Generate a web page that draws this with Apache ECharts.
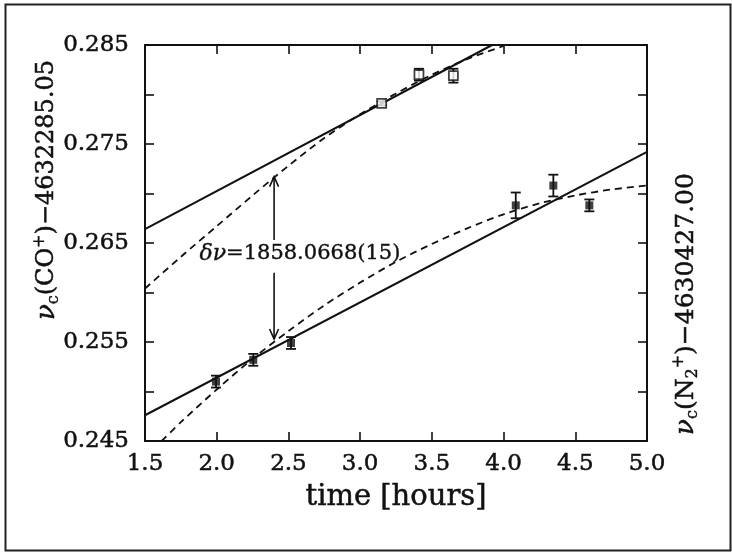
<!DOCTYPE html>
<html>
<head>
<meta charset="utf-8">
<script src="https://cdn.jsdelivr.net/npm/echarts@6/dist/echarts.min.js"></script>
<style>
html,body{margin:0;padding:0;background:#fff;}
#chart{width:732px;height:552px;}
</style>
</head>
<body>
<div id="chart"></div>
<script>
// ---- data ----
const xTickLabels = ['1.5','2.0','2.5','3.0','3.5','4.0','4.5','5.0'];
const yTickLabels = ['0.245','0.255','0.265','0.275','0.285'];

// CO+ measurements (open squares): time [h], value, error
const coTime  = [3.15, 3.41, 3.65];
const coValue = [0.2791, 0.2820, 0.2819];
const coErr   = [0.0002, 0.0006, 0.0007];

// N2+ measurements (filled squares)
const n2Time  = [1.995, 2.255, 2.518, 4.085, 4.347, 4.598];
const n2Value = [0.2510, 0.2532, 0.2549, 0.2688, 0.2708, 0.2688];
const n2Err   = [0.0006, 0.0006, 0.0006, 0.0013, 0.0011, 0.0006];

// linear fits (solid)
const coLinX = [1.5, 3.92];
const coLinY = [0.2664, 0.2850];
const n2LinX = [1.5, 5.0];
const n2LinY = [0.2476, 0.2742];

// quadratic fits (dashed)
const coQuadX = [1.5, 1.75, 2.0, 2.25, 2.5, 2.75, 3.0, 3.25, 3.5, 3.75, 4.0];
const coQuadY = [0.2604, 0.2636, 0.2667, 0.2698, 0.2728, 0.2756, 0.2780, 0.2801, 0.2820, 0.2836, 0.2849];
const n2QuadX = [1.616, 1.75, 2.0, 2.25, 2.5, 2.75, 3.0, 3.25, 3.5, 3.75, 4.0, 4.25, 4.5, 4.75, 5.0];
const n2QuadY = [0.2450, 0.2469, 0.2502, 0.2533, 0.2561, 0.2587, 0.2610, 0.2631, 0.2649, 0.2665, 0.2679, 0.2690, 0.2698, 0.2704, 0.2708];

// annotation arrow (x, from, to=arrow tip)
const arrowX    = [2.4, 2.4];
const arrowFrom = [0.2653, 0.2620];
const arrowTo   = [0.2717, 0.2553];
const annotPos  = [2.58, 0.2639];

// ---- build ----
const zip = (a, b) => a.map((v, i) => [v, b[i]]);
const zip3 = (a, b, c) => a.map((v, i) => [v, b[i], c[i]]);

const FONT = 'DejaVu Serif';
const INK = '#111';
const heavy = {textBorderColor: INK, textBorderWidth: 0.5};

function renderErr(params, api) {
  const x = api.value(0), y = api.value(1), e = api.value(2);
  const t = api.coord([x, y + e]), b = api.coord([x, y - e]);
  const w = 5;
  const st = {stroke: INK, lineWidth: 1.8};
  return {type: 'group', children: [
    {type: 'line', shape: {x1: t[0], y1: t[1], x2: b[0], y2: b[1]}, style: st},
    {type: 'line', shape: {x1: t[0] - w, y1: t[1], x2: t[0] + w, y2: t[1]}, style: st},
    {type: 'line', shape: {x1: b[0] - w, y1: b[1], x2: b[0] + w, y2: b[1]}, style: st}
  ]};
}

function renderArrow(params, api) {
  const x = api.value(0), f = api.value(1), t = api.value(2);
  const p0 = api.coord([x, f]), p1 = api.coord([x, t]);
  const dir = p1[1] < p0[1] ? 1 : -1;
  const L = 10, W = 4.5;
  const st = {stroke: INK, lineWidth: 1.6, fill: null};
  return {type: 'group', children: [
    {type: 'line', shape: {x1: p0[0], y1: p0[1], x2: p1[0], y2: p1[1]}, style: st},
    {type: 'polyline', shape: {points: [[p1[0] - W, p1[1] + dir * L], [p1[0], p1[1]], [p1[0] + W, p1[1] + dir * L]]}, style: st}
  ]};
}

function renderText(params, api) {
  const p = api.coord([api.value(0), api.value(1)]);
  return {type: 'text', x: p[0], y: p[1], style: {
    text: '{i|δν}{n|=1858.0668(15)}',
    align: 'center', verticalAlign: 'middle',
    rich: {
      i: Object.assign({fontFamily: FONT, fontSize: 22, fontStyle: 'italic', fill: INK}, {stroke: INK, lineWidth: 0.4}),
      n: Object.assign({fontFamily: FONT, fontSize: 21, fill: INK}, {stroke: INK, lineWidth: 0.4})
    }
  }};
}

const axisLineStyle = {show: true, lineStyle: {color: INK, width: 2}};
const tickStyle = {show: true, inside: true, length: 9, lineStyle: {color: INK, width: 1.6}};

const option = {
  animation: false,
  backgroundColor: '#fff',
  grid: {left: 145, right: 85, top: 45, bottom: 111, containLabel: false},
  xAxis: [
    {type: 'value', min: 1.5, max: 5.0, interval: 0.5, position: 'bottom',
     axisLine: axisLineStyle, axisTick: tickStyle, splitLine: {show: false},
     axisLabel: Object.assign({margin: 12, color: INK, fontFamily: FONT, fontSize: 23,
       formatter: v => xTickLabels.find(l => Math.abs(parseFloat(l) - v) < 1e-6) || ''}, heavy),
     name: 'time [hours]', nameLocation: 'middle', nameGap: 42,
     nameTextStyle: Object.assign({color: INK, fontFamily: FONT, fontSize: 29}, heavy)},
    {type: 'value', min: 1.5, max: 5.0, interval: 0.5, position: 'top',
     axisLine: axisLineStyle, axisTick: tickStyle, splitLine: {show: false},
     axisLabel: {show: false}}
  ],
  yAxis: [
    {type: 'value', min: 0.245, max: 0.285, interval: 0.005, position: 'left',
     axisLine: axisLineStyle, axisTick: tickStyle, splitLine: {show: false},
     axisLabel: Object.assign({margin: 16, color: INK, fontFamily: FONT, fontSize: 23,
       formatter: v => yTickLabels.find(l => Math.abs(parseFloat(l) - v) < 1e-6) || ''}, heavy)},
    {type: 'value', min: 0.245, max: 0.285, interval: 0.005, position: 'right',
     axisLine: axisLineStyle, axisTick: tickStyle, splitLine: {show: false},
     axisLabel: {show: false}}
  ],
  series: [
    {type: 'line', data: zip(coLinX, coLinY), showSymbol: false, symbol: 'none',
     lineStyle: {color: INK, width: 2}, z: 3},
    {type: 'line', data: zip(n2LinX, n2LinY), showSymbol: false, symbol: 'none',
     lineStyle: {color: INK, width: 2}, z: 3},
    {type: 'line', data: zip(coQuadX, coQuadY), showSymbol: false, symbol: 'none', smooth: 0.3,
     lineStyle: {color: INK, width: 1.8, type: [7, 5]}, z: 3},
    {type: 'line', data: zip(n2QuadX, n2QuadY), showSymbol: false, symbol: 'none', smooth: 0.3,
     lineStyle: {color: INK, width: 1.8, type: [7, 5]}, z: 3},
    {type: 'custom', renderItem: renderErr, data: zip3(coTime, coValue, coErr), encode: {x: 0, y: 1}, z: 4},
    {type: 'custom', renderItem: renderErr, data: zip3(n2Time, n2Value, n2Err), encode: {x: 0, y: 1}, z: 4},
    {type: 'scatter', data: zip(coTime, coValue), symbol: 'rect', symbolSize: 9,
     itemStyle: {color: '#fff', borderColor: INK, borderWidth: 1.8}, z: 5},
    {type: 'scatter', data: zip(n2Time, n2Value), symbol: 'rect', symbolSize: 8,
     itemStyle: {color: INK}, z: 5},
    {type: 'custom', renderItem: renderArrow, data: zip3(arrowX, arrowFrom, arrowTo), encode: {x: 0, y: 1}, z: 6},
    {type: 'custom', renderItem: renderText, data: [annotPos], encode: {x: 0, y: 1}, z: 6}
  ],
  graphic: [
    {type: 'rect', left: 3, top: 2, shape: {x: 0, y: 0, width: 725, height: 546},
     style: {fill: null, stroke: '#222', lineWidth: 2}, silent: true, z: -1},
    {type: 'text', x: 47, y: 190, rotation: Math.PI / 2,
     style: {text: '{g|ν}{s|c}{n|(CO}{p|+}{n|)−4632285.05}', align: 'center', verticalAlign: 'middle',
       rich: {
         g: {fontFamily: FONT, fontSize: 26, fill: INK, fontStyle: 'italic', stroke: INK, lineWidth: 0.5},
         n: {fontFamily: FONT, fontSize: 24, fill: INK, stroke: INK, lineWidth: 0.5},
         s: {fontFamily: FONT, fontSize: 16, fill: INK, stroke: INK, lineWidth: 0.4, padding: [14, 0, 0, 0]},
         p: {fontFamily: FONT, fontSize: 16, fill: INK, stroke: INK, lineWidth: 0.4, padding: [0, 0, 14, 0]}
       }}},
    {type: 'text', x: 686, y: 304, rotation: Math.PI / 2,
     style: {text: '{g|ν}{s|c}{n|(N}{s|2}{p|+}{n|)−4630427.00}', align: 'center', verticalAlign: 'middle',
       rich: {
         g: {fontFamily: FONT, fontSize: 26, fill: INK, fontStyle: 'italic', stroke: INK, lineWidth: 0.5},
         n: {fontFamily: FONT, fontSize: 25, fill: INK, stroke: INK, lineWidth: 0.5},
         s: {fontFamily: FONT, fontSize: 16, fill: INK, stroke: INK, lineWidth: 0.4, padding: [14, 0, 0, 0]},
         p: {fontFamily: FONT, fontSize: 16, fill: INK, stroke: INK, lineWidth: 0.4, padding: [0, 0, 14, 0]}
       }}}
  ]
};

const chart = echarts.init(document.getElementById('chart'), null, {renderer: 'canvas'});
chart.setOption(option);
</script>
</body>
</html>
